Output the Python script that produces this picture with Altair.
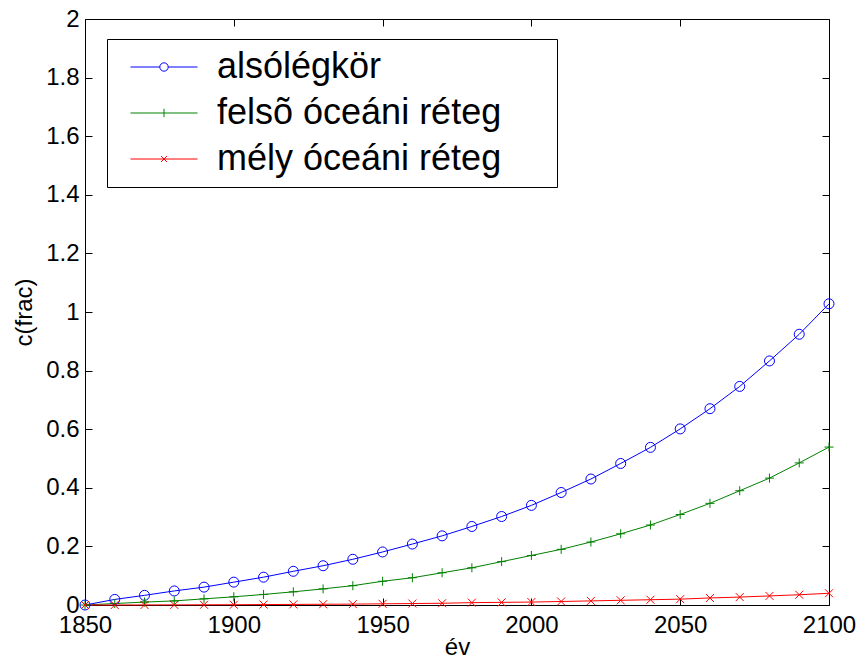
import altair as alt
import pandas as pd

years = [1850, 1860, 1870, 1880, 1890, 1900, 1910, 1920, 1930, 1940, 1950, 1960, 1970,
         1980, 1990, 2000, 2010, 2020, 2030, 2040, 2050, 2060, 2070, 2080, 2090, 2100]
lower_atm = [0, 0.019, 0.033, 0.048, 0.061, 0.078, 0.095, 0.115, 0.134, 0.156, 0.181, 0.208, 0.236,
             0.268, 0.302, 0.340, 0.384, 0.430, 0.483, 0.538, 0.601, 0.670, 0.746, 0.833, 0.924, 1.028]
upper_ocean = [0, 0.005, 0.010, 0.014, 0.021, 0.028, 0.036, 0.045, 0.055, 0.066, 0.081, 0.093, 0.110,
               0.127, 0.148, 0.169, 0.190, 0.215, 0.243, 0.273, 0.309, 0.347, 0.390, 0.433, 0.485, 0.539]
deep_ocean = [0, 0, 0.0002, 0.0004, 0.0007, 0.001, 0.0015, 0.002, 0.0025, 0.003, 0.004, 0.005, 0.006,
              0.008, 0.009, 0.010, 0.012, 0.014, 0.016, 0.018, 0.020, 0.024, 0.027, 0.031, 0.035, 0.040]

series_names = ["alsólégkör", "felsõ óceáni réteg", "mély óceáni réteg"]
series_colors = ["#0000ff", "#008000", "#ff0000"]
x_ticks = [1850, 1900, 1950, 2000, 2050, 2100]
y_ticks = [0, 0.2, 0.4, 0.6, 0.8, 1.0, 1.2, 1.4, 1.6, 1.8, 2.0]

rows = []
for name, vals in zip(series_names, [lower_atm, upper_ocean, deep_ocean]):
    for yr, v in zip(years, vals):
        rows.append({"year": yr, "value": v, "series": name})
df = pd.DataFrame(rows)

W, H = 744, 586
FONT = "Liberation Sans"

xscale = alt.Scale(domain=[1850, 2100], nice=False, zero=False)
yscale = alt.Scale(domain=[0, 2], nice=False)
cscale = alt.Scale(domain=series_names, range=series_colors)

marker_paths = ["circle", "M-1,0H1M0,-1V1", "M-1,-1L1,1M-1,1L1,-1"]
marker_sizes = [100, 64, 49]
# legend glyphs: line with marker in the middle (the trailing move only widens the legend frame)
legend_paths = [
    "M-3.35,0H-0.42M0.42,0H3.35M0.42,0A0.42,0.42,0,1,1,-0.42,0A0.42,0.42,0,1,1,0.42,0M38.1,0",
    "M-3.35,0H3.35M0,-0.42V0.42M38.1,0",
    "M-3.35,0H3.35M-0.3,-0.3L0.3,0.3M-0.3,0.3L0.3,-0.3M38.1,0",
]

label_axis_x = alt.Axis(values=x_ticks, format="d", tickSize=0, domain=False, grid=False,
                        labelFont=FONT, labelFontSize=24, labelColor="black", labelPadding=8,
                        labelFlush=False, labelOverlap=False, labelBound=False,
                        title="év", titleFont=FONT, titleFontSize=24, titleFontWeight="normal",
                        titleColor="black", titleBaseline="alphabetic", titleY=49)
label_axis_y = alt.Axis(values=y_ticks, labelExpr="format(datum.value, '.1~f')", tickSize=0,
                        domain=False, grid=False, labelFont=FONT, labelFontSize=24,
                        labelColor="black", labelPadding=6,
                        labelFlush=False, labelOverlap=False, labelBound=False,
                        title="c(frac)", titleFont=FONT, titleFontSize=24, titleFontWeight="normal",
                        titleColor="black", titleBaseline="alphabetic", titleX=-54, titleAngle=270)


def tick_axis(vals, orient, offset):
    return alt.Axis(values=vals, orient=orient, offset=offset, labels=False, domain=False,
                    grid=False, tickSize=7, tickColor="black", tickWidth=1, title=None)


lines = alt.Chart(df).mark_line(strokeWidth=1).encode(
    x=alt.X("year:Q", scale=xscale, axis=label_axis_x),
    y=alt.Y("value:Q", scale=yscale, axis=label_axis_y),
    color=alt.Color("series:N", scale=cscale, legend=None),
)

points = alt.Chart(df).mark_point(filled=False, strokeWidth=1, opacity=1).encode(
    x=alt.X("year:Q", scale=xscale, axis=tick_axis(x_ticks, "top", -H)),
    y=alt.Y("value:Q", scale=yscale, axis=tick_axis(y_ticks, "right", -W)),
    color=alt.Color("series:N", scale=cscale, legend=None),
    shape=alt.Shape("series:N", scale=alt.Scale(domain=series_names, range=marker_paths), legend=None),
    size=alt.Size("series:N", scale=alt.Scale(domain=series_names, range=marker_sizes), legend=None),
)

leg = alt.Legend(title=None, orient="none", legendX=22, legendY=20, padding=10,
                 strokeColor="black", fillColor="white", cornerRadius=0,
                 labelFont=FONT, labelFontSize=36, labelColor="black", labelLimit=1000,
                 symbolSize=400, symbolStrokeWidth=1, symbolOpacity=1,
                 symbolOffset=29, labelOffset=35, rowPadding=10)

legend_layer = alt.Chart(df).transform_calculate(label="datum.series").mark_point(
    filled=False, opacity=0, size=400, strokeWidth=1).encode(
    x=alt.X("year:Q", scale=xscale, axis=tick_axis(x_ticks, "bottom", -H)),
    y=alt.Y("value:Q", scale=yscale, axis=tick_axis(y_ticks, "left", -W)),
    color=alt.Color("label:N", scale=alt.Scale(domain=series_names, range=series_colors), legend=leg),
    shape=alt.Shape("label:N", scale=alt.Scale(domain=series_names, range=legend_paths), legend=leg),
)

chart = alt.layer(lines, points, legend_layer).resolve_axis(
    x="independent", y="independent"
).resolve_scale(
    color="independent", shape="independent", size="independent"
).properties(
    width=W, height=H,
    padding={"left": 85, "top": 19, "right": 33, "bottom": 59},
    autosize=alt.AutoSizeParams(type="none"),
    background="white",
).configure_view(stroke="black", strokeWidth=1)

chart.save("out.html", embed_options={"renderer": "svg", "actions": False})
